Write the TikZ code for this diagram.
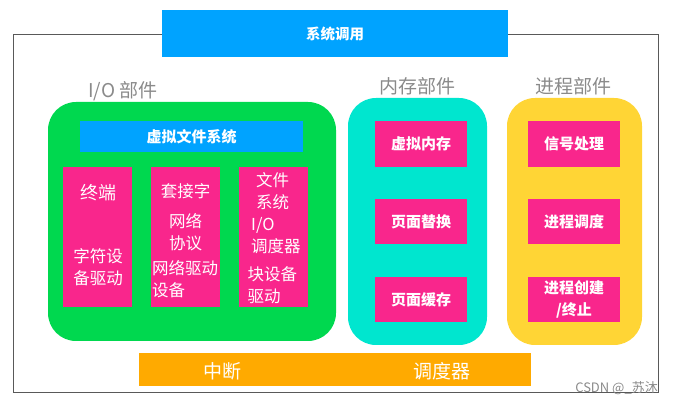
\documentclass[tikz,border=0pt]{standalone}
\usepackage{fontspec}
\newfontfamily\cjk{Noto Sans CJK SC}
\usetikzlibrary{positioning}
\definecolor{callblue}{HTML}{00A3FF}
\definecolor{iogreen}{HTML}{00D84F}
\definecolor{memcyan}{HTML}{00E6CF}
\definecolor{procyellow}{HTML}{FFD535}
\definecolor{partpink}{HTML}{F9268C}
\definecolor{irqorange}{HTML}{FFAA00}
\definecolor{labelgray}{HTML}{8A8A8A}

\begin{document}
\begin{tikzpicture}[x=1pt, y=-1pt,
    flatbox/.style={draw=none, inner sep=0pt, text=white,
      font=\cjk\bfseries\fontsize{15}{18}\selectfont},
    partbox/.style={rounded corners=28pt, inner sep=0pt},
    pinkbox/.style={flatbox, fill=partpink},
    coltext/.style={text=white, inner sep=0pt,
      font=\cjk\fontsize{16.5}{22}\selectfont},
    partlabel/.style={text=labelgray, inner sep=0pt,
      font=\cjk\fontsize{19}{22}\selectfont}]
  \useasboundingbox (0,0) rectangle (675,403);

  % outer frame
  \draw[black!65, line width=0.8pt] (13,34) rectangle (658,392);

  % system call bar
  \node[flatbox, fill=callblue, minimum width=346pt, minimum height=47pt,
    font=\cjk\bfseries\fontsize{14.5}{17}\selectfont] (syscall) at (335,33.5) {系统调用};

  % three parts
  \node[partbox, fill=iogreen, minimum width=288pt, minimum height=239pt]
    (iopart) at (192,221.5) {};
  \node[partbox, fill=memcyan, minimum width=139pt, minimum height=247pt]
    (mempart) at (417.5,221.5) {};
  \node[partbox, fill=procyellow, minimum width=135pt, minimum height=247pt]
    (procpart) at (574.5,221.5) {};

  \node[partlabel] (iolabel) at (123,91) {I/O 部件};
  \node[partlabel] (memlabel) at (417.5,86) {内存部件};
  \node[partlabel] (proclabel) at (573.5,86) {进程部件};

  % I/O part
  \node[flatbox, fill=callblue, minimum width=223pt, minimum height=31pt]
    (vfs) at (191.5,136.5) {虚拟文件系统};
  \node[pinkbox, minimum width=69pt, minimum height=140pt] (tty) at (97.5,237) {};
  \node[pinkbox, minimum width=69pt, minimum height=140pt] (net) at (185.5,237) {};
  \node[pinkbox, minimum width=69pt, minimum height=140pt] (blk) at (273.5,237) {};

  \node[coltext, font=\cjk\fontsize{18}{22}\selectfont] (ttytop) at (98,193) {终端};
  \node[coltext, align=center] (ttydrv) at (98,267) {字符设\\备驱动};

  \node[coltext] (sock) at (185.5,191) {套接字};
  \node[coltext, align=center] (proto) at (185.5,232) {网络\\协议};
  \node[coltext, align=left, anchor=west] (netdrv) at (152,279.5) {网络驱动\\设备};

  \node[coltext, align=center] (fs) at (272.5,191.5) {文件\\系统};
  \node[coltext, align=left, anchor=west] (iosched) at (251,236) {I/O\\调度器};
  \node[coltext, align=left, anchor=west] (blkdrv) at (247.5,285) {块设备\\驱动};

  % memory part
  \node[pinkbox, minimum width=92pt, minimum height=46pt] (vmem) at (421,144) {虚拟内存};
  \node[pinkbox, minimum width=92pt, minimum height=45pt] (swap) at (421,221.5) {页面替换};
  \node[pinkbox, minimum width=92pt, minimum height=45pt] (cache) at (421,299.5) {页面缓存};

  % process part
  \node[pinkbox, minimum width=92pt, minimum height=46pt] (signal) at (574,144) {信号处理};
  \node[pinkbox, minimum width=92pt, minimum height=45pt] (sched) at (574,221.5) {进程调度};
  \node[pinkbox, minimum width=92pt, minimum height=45pt, align=center,
    font=\cjk\bfseries\fontsize{15}{22}\selectfont] (fork) at (574,299.5) {进程创建\\/终止};

  % interrupt / scheduler bar
  \node[fill=irqorange, inner sep=0pt, minimum width=392pt, minimum height=33pt]
    (irqbar) at (335,369.5) {};
  \node[text=white, font=\cjk\fontsize{19}{22}\selectfont] (irq) at (222,371) {中断};
  \node[text=white, font=\cjk\fontsize{19}{22}\selectfont] (sched2) at (442,371) {调度器};

  \node[text=labelgray, inner sep=0pt, anchor=east,
    font=\cjk\fontsize{13}{14}\selectfont] (mark) at (658,388) {CSDN @\_苏沐};
\end{tikzpicture}
\end{document}
